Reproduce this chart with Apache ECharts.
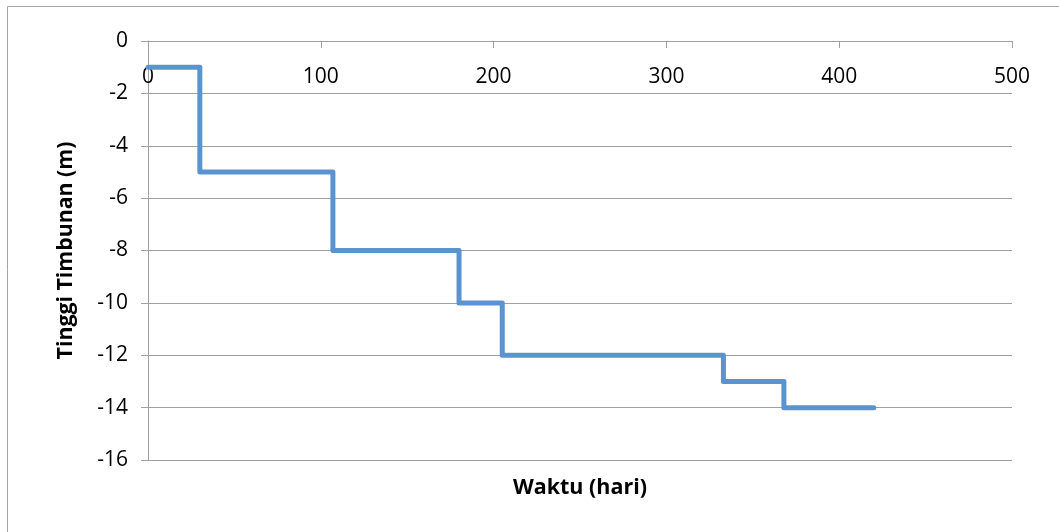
<!DOCTYPE html>
<html>
<head>
<meta charset="utf-8">
<script src="https://cdn.jsdelivr.net/npm/echarts@6/dist/echarts.min.js"></script>
<style>
html,body{margin:0;padding:0;background:#fff;}
#chart{width:1059px;height:532px;}
</style>
</head>
<body>
<div id="chart"></div>
<script>
// Step-line data (day, height)
const waktu = [0, 30, 30, 107, 107, 180, 180, 205, 205, 333, 333, 368, 368, 420];
const tinggi = [-1, -1, -5, -5, -8, -8, -10, -10, -12, -12, -13, -13, -14, -14];
const xTicks = [0, 100, 200, 300, 400, 500];
const yTicks = [0, -2, -4, -6, -8, -10, -12, -14, -16];
const xTitle = 'Waktu (hari)';
const yTitle = 'Tinggi Timbunan (m)';

const font = 'Open Sans';
const chart = echarts.init(document.getElementById('chart'), null, {renderer: 'canvas'});
chart.setOption({
  animation: false,
  backgroundColor: '#fff',
  grid: {left: 148, right: 47, top: 41, bottom: 72, containLabel: false},
  graphic: [
    {type: 'rect', shape: {x: 7.5, y: 6.5, width: 1100, height: 600}, style: {fill: null, stroke: '#a6a6a6', lineWidth: 1}, silent: true},
    {type: 'text', x: 580, y: 488, style: {text: xTitle, font: 'bold 21.5px "' + font + '"', fill: '#000', align: 'center', verticalAlign: 'middle'}}
  ],
  xAxis: {
    type: 'value', position: 'top', min: xTicks[0], max: xTicks[xTicks.length - 1], interval: 100,
    axisLine: {show: true, onZero: false, lineStyle: {color: '#a0a0a0', width: 1}},
    axisTick: {show: true, inside: true, length: 7, lineStyle: {color: '#a0a0a0'}},
    axisLabel: {inside: true, margin: 26, color: '#000', fontFamily: font, fontSize: 21},
    splitLine: {show: false}
  },
  yAxis: {
    type: 'value', min: yTicks[yTicks.length - 1], max: yTicks[0], interval: 2,
    name: yTitle, nameLocation: 'middle', nameGap: 72,
    nameTextStyle: {color: '#000', fontFamily: font, fontSize: 21.3, fontWeight: 'bold'},
    axisLine: {show: true, lineStyle: {color: '#a0a0a0', width: 1}},
    axisTick: {show: true, length: 7, lineStyle: {color: '#a0a0a0'}},
    axisLabel: {margin: 20, color: '#000', fontFamily: font, fontSize: 21},
    splitLine: {show: true, lineStyle: {color: '#a0a0a0', width: 1}}
  },
  series: [{
    type: 'line',
    data: waktu.map((x, i) => [x, tinggi[i]]),
    showSymbol: false,
    lineStyle: {color: '#5b93cf', width: 5, cap: 'round', join: 'round'}
  }]
});
</script>
</body>
</html>
